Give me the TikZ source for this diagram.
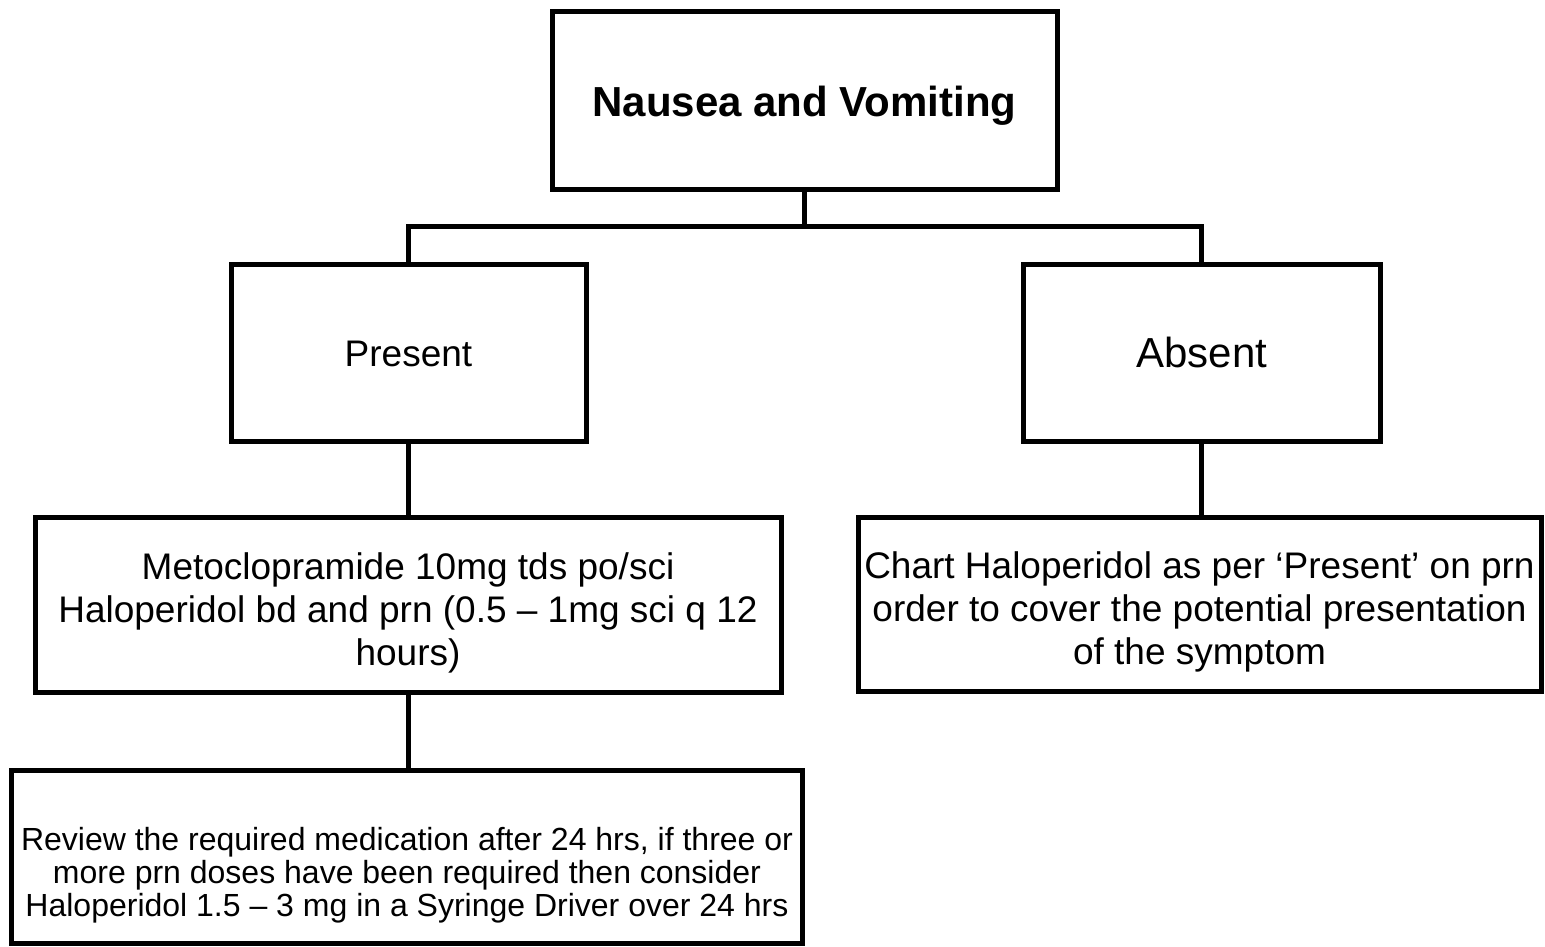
\documentclass[tikz,border=0pt]{standalone}
\usepackage{fontspec}
\setmainfont{Liberation Sans}
\begin{document}
\begin{tikzpicture}[x=1pt,y=-1pt,
  box/.style={draw=black, line width=5pt, fill=white, inner sep=0pt},
  boxtext/.style={align=center, inner sep=0pt},
  link/.style={draw=black, line width=5pt}]
  \useasboundingbox (0,0) rectangle (1545,946);

  % Top-level symptom
  \node[box, minimum width=505pt, minimum height=178pt] (nv) at (804.5,100) {};
  \node[boxtext, font=\fontsize{42}{48}\selectfont\bfseries] (nvtext)
        at ([yshift=-6pt]nv.center) {Nausea and Vomiting};

  % Present / absent branches
  \node[box, minimum width=355pt, minimum height=177pt] (present) at (408.5,352.5) {};
  \node[boxtext, font=\fontsize{37}{42}\selectfont] (presenttext)
        at ([yshift=-1pt]present.center) {Present};
  \node[box, minimum width=356.5pt, minimum height=177pt] (absent) at (1201.75,352.5) {};
  \node[boxtext, font=\fontsize{42}{48}\selectfont] (absenttext)
        at (absent.center) {Absent};

  % Treatment boxes
  \node[box, minimum width=746pt, minimum height=175pt] (meto) at (408,604.5) {};
  \node[boxtext, font=\fontsize{37}{43}\selectfont] (metotext)
        at ([yshift=-8pt]meto.center)
        {Metoclopramide 10mg tds po/sci\\Haloperidol bd and prn (0.5 – 1mg sci q 12\\hours)};
  \node[box, minimum width=683pt, minimum height=174pt] (chart) at (1199.5,604) {};
  \node[boxtext, font=\fontsize{37}{43}\selectfont] (charttext)
        at ([yshift=-8pt]chart.center)
        {Chart Haloperidol as per ‘Present’ on prn\\order to cover the potential presentation\\of the symptom};

  % Review box
  \node[box, minimum width=791.5pt, minimum height=173pt] (review) at (407,856.5) {};
  \node[boxtext, font=\fontsize{32}{33}\selectfont] (reviewtext)
        at ([yshift=-19pt]review.center)
        {Review the required medication after 24 hrs, if three or\\more prn doses have been required then consider\\Haloperidol 1.5 – 3 mg in a Syringe Driver over 24 hrs};

  % Connectors
  \coordinate (split) at (nv.south |- 0,226);
  \draw[link] (nv.south) -- (split);
  \draw[link] (present.north) |- (split) -| (absent.north);
  \draw[link] (present.south) -- (present.south |- meto.north);
  \draw[link] (absent.south) -- (absent.south |- chart.north);
  \draw[link] (meto.south) -- (meto.south |- review.north);
\end{tikzpicture}
\end{document}
